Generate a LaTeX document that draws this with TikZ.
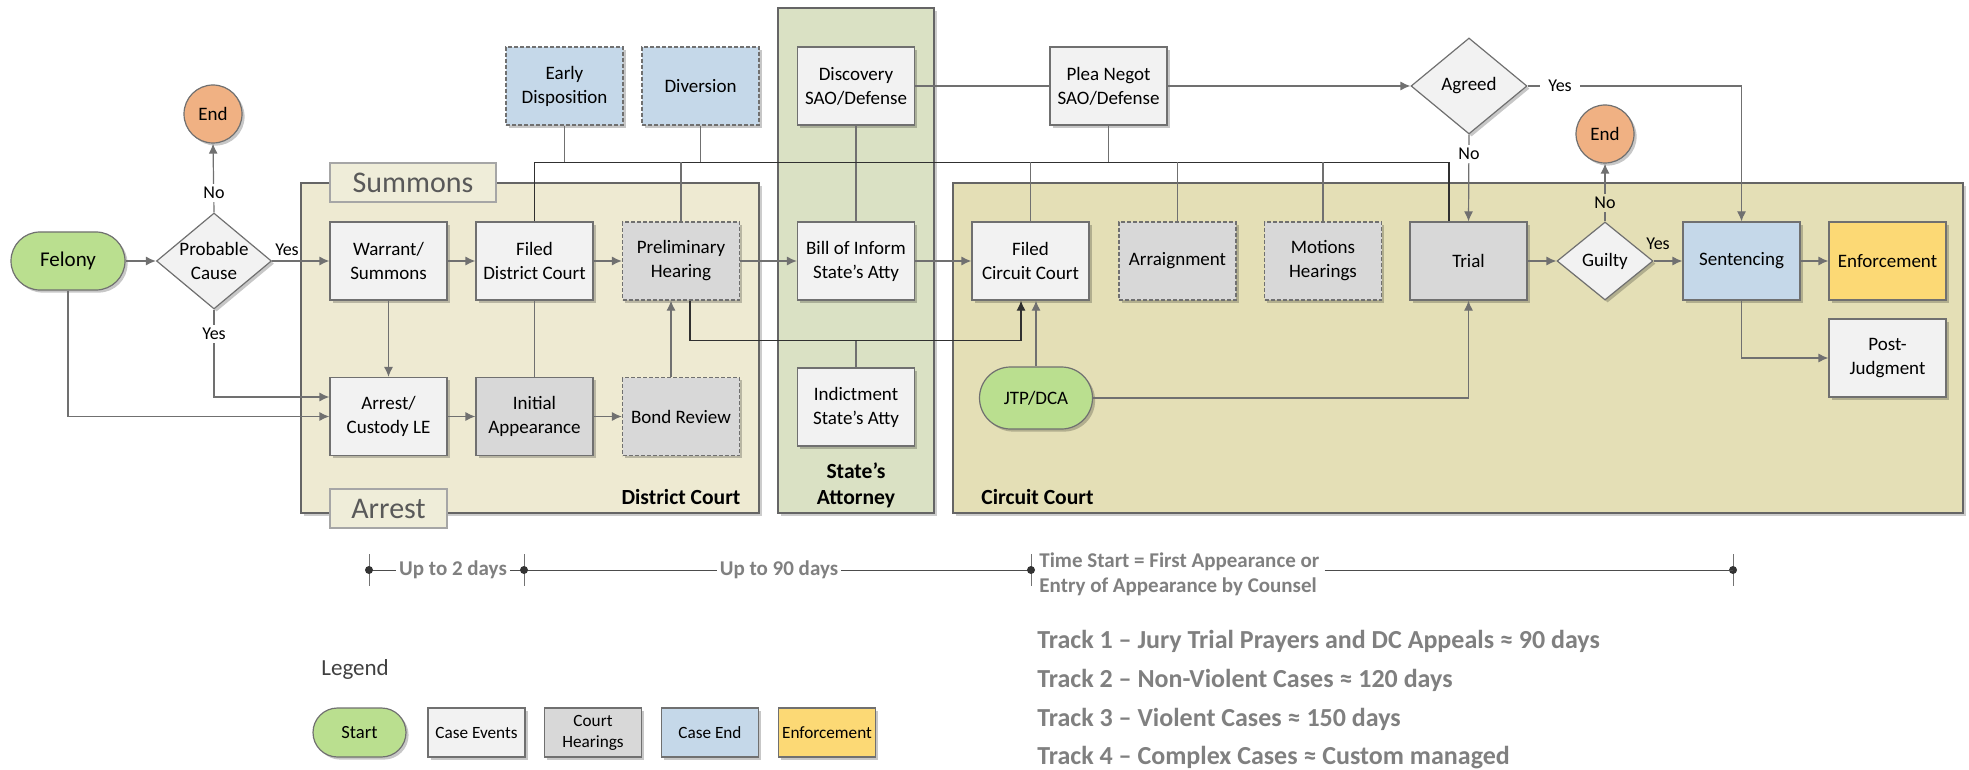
\documentclass[tikz,border=0pt]{standalone}
\usepackage{fontspec}
\setmainfont{Carlito}
\usetikzlibrary{arrows.meta,shadows,shapes.geometric,shapes.misc,calc}
\definecolor{evtfill}{HTML}{F2F2F2}
\definecolor{hearfill}{HTML}{D8D8D8}
\definecolor{endfill}{HTML}{C5D8E9}
\definecolor{enffill}{HTML}{FCD975}
\definecolor{startfill}{HTML}{BADF8F}
\definecolor{stopfill}{HTML}{F0B183}
\definecolor{dcfill}{HTML}{EEEAD2}
\definecolor{safill}{HTML}{DAE1C4}
\definecolor{ccfill}{HTML}{E4DFB6}
\definecolor{tabfill}{HTML}{EFEDD9}
\definecolor{boxline}{HTML}{707070}
\definecolor{lineclr}{HTML}{707070}
\definecolor{busclr}{HTML}{303030}
\definecolor{tlgray}{HTML}{808080}
\tikzset{
  shad/.style={drop shadow={shadow xshift=1.3pt,shadow yshift=-1.3pt,fill=black,opacity=0.22}},
  base/.style={draw=boxline,line width=0.6pt,minimum width=58.5pt,minimum height=39pt,
    align=center,inner sep=1pt,font=\fontsize{9.5}{12}\selectfont,shad},
  evt/.style={base,fill=evtfill},
  hear/.style={base,fill=hearfill},
  dhear/.style={hear,dash pattern=on 2pt off 1pt},
  cend/.style={base,fill=endfill},
  dcend/.style={cend,dash pattern=on 2pt off 1pt},
  enf/.style={base,fill=enffill},
  startnode/.style={base,rounded rectangle,fill=startfill},
  stopnode/.style={draw=boxline,line width=0.6pt,circle,minimum size=29pt,inner sep=0pt,
    fill=stopfill,font=\fontsize{9.5}{12}\selectfont,shad},
  dia/.style={draw=boxline,line width=0.6pt,diamond,inner sep=0pt,fill=evtfill,shad},
  dlbl/.style={align=center,font=\fontsize{9.5}{12}\selectfont,inner sep=0pt},
  cont/.style={draw=boxline!90!black,line width=0.7pt,inner sep=0pt,
    drop shadow={shadow xshift=1.5pt,shadow yshift=-1.5pt,fill=black,opacity=0.2}},
  tab/.style={draw=black!35,line width=0.6pt,fill=tabfill,inner sep=0pt,
    text=black!65,font=\fontsize{15}{17}\selectfont},
  clbl/.style={font=\fontsize{10.8}{13}\selectfont\bfseries,align=center,inner sep=0pt},
  yn/.style={font=\fontsize{9}{11}\selectfont,inner sep=1.5pt},
  ln/.style={draw=lineclr,line width=0.6pt},
  bus/.style={draw=busclr,line width=0.6pt},
  arr/.style={ln,-{Latex[length=5pt,width=4.5pt]}},
  busarr/.style={bus,-{Latex[length=5pt,width=4.5pt]}},
  tl/.style={draw=black!70,line width=0.5pt},
  tlt/.style={text=tlgray,font=\fontsize{10.5}{12.5}\selectfont\bfseries,inner sep=1.5pt},
  track/.style={text=tlgray,font=\fontsize{13}{15}\selectfont\bfseries,inner sep=0pt,anchor=west},
  lg/.style={minimum width=48.5pt,minimum height=24.5pt,font=\fontsize{8.6}{10.5}\selectfont},
}
\begin{document}
\begin{tikzpicture}[x=0.5pt,y=-0.5pt]
\useasboundingbox (0,0) rectangle (1969,770);
% containers
\node[cont,fill=dcfill,minimum width=229pt,minimum height=165pt] (dc) at (530,348) {};
\node[cont,fill=safill,minimum width=78pt,minimum height=252.5pt] (sa) at (856,260.5) {};
\node[cont,fill=ccfill,minimum width=505pt,minimum height=165pt] (cc) at (1458,348) {};
\node[tab,minimum width=83pt,minimum height=19.5pt] (sumtab) at (413,182.5) {Summons};
\node[tab,minimum width=58.5pt,minimum height=19.5pt] (arrtab) at (388.5,508.5) {Arrest};
\node[clbl] (dclbl) at (681,497) {District Court};
\node[clbl] (salbl) at (856,485) {State’s\\Attorney};
\node[clbl,anchor=west] (cclbl) at (981,497) {Circuit Court};
% nodes
\node[startnode,minimum width=59pt,minimum height=29pt,font=\fontsize{10.5}{12}\selectfont] (felony) at (68,261) {Felony};
\node[dia,minimum width=57.5pt,minimum height=48pt,label={[dlbl]center:Probable\\Cause}] (pc) at (214,261) {};
\node[stopnode] (end1) at (213,114) {End};
\node[evt] (warrant) at (388.5,261) {Warrant/\\Summons};
\node[evt] (arrest) at (388.5,416.5) {Arrest/\\Custody LE};
\node[evt] (fdc) at (534.5,261) {Filed\\District Court};
\node[hear] (initapp) at (534.5,416.5) {Initial\\Appearance};
\node[dhear] (prelim) at (681,261) {Preliminary\\Hearing};
\node[dhear] (bond) at (681,416.5) {Bond Review};
\node[dcend] (early) at (564.5,86) {Early\\Disposition};
\node[dcend] (diversion) at (700.5,86) {Diversion};
\node[evt] (discovery) at (856,86) {Discovery\\SAO/Defense};
\node[evt] (bill) at (856,261) {Bill of Inform\\State’s Atty};
\node[evt] (indict) at (856,407) {Indictment\\State’s Atty};
\node[evt] (plea) at (1108.5,86) {Plea Negot\\SAO/Defense};
\node[dia,minimum width=58pt,minimum height=48pt,label={[dlbl]center:Agreed}] (agreed) at (1469,86) {};
\node[evt] (fcc) at (1030.5,261) {Filed\\Circuit Court};
\node[dhear] (arraign) at (1177.5,261) {Arraignment};
\node[dhear] (motions) at (1323,261) {Motions\\Hearings};
\node[hear] (trial) at (1468.5,261) {Trial};
\node[dia,minimum width=48pt,minimum height=39pt,label={[dlbl]center:Guilty}] (guilty) at (1605,261) {};
\node[stopnode] (end2) at (1605,134) {End};
\node[cend] (sentencing) at (1741.5,261) {Sentencing};
\node[enf] (enforcement) at (1887.5,261) {Enforcement};
\node[evt] (postj) at (1887.5,358) {Post-\\Judgment};
\node[startnode,minimum width=58.5pt,minimum height=31pt] (jtp) at (1036,398) {JTP/DCA};
% connectors
\draw[arr] (felony.east) -- (pc.west);
\draw[arr] (pc.east) -- (warrant.west);
\node[yn] (yes1) at (287,250) {Yes};
\draw[arr] (pc.north) -- (end1.south);
\node[yn,fill=white] (no1) at (214,193) {No};
\draw[arr] (pc.south) |- ([yshift=9.75pt]arrest.west);
\node[yn,fill=white] (yes2) at (214,334) {Yes};
\draw[arr] (felony.south) |- (arrest.west);
\draw[arr] (warrant) -- (fdc);
\draw[arr] (warrant) -- (arrest);
\draw[arr] (arrest) -- (initapp);
\draw[arr] (initapp) -- (bond);
\draw[ln] (fdc) -- (initapp);
\draw[arr] (fdc) -- (prelim);
\draw[arr] ([xshift=-5pt]bond.north) -- ([xshift=-5pt]prelim.south);
\draw[busarr] ([xshift=4.5pt]prelim.south) -- ++(0,40) coordinate (pl) -| ([xshift=-4.75pt]fcc.south);
\draw[ln] (indict.north) -- (indict.north |- pl);
\draw[arr] (prelim) -- (bill);
\draw[arr] (bill) -- (fcc);
\draw[ln] (discovery) -- (bill);
\draw[ln] (discovery) -- (plea);
\draw[arr] (plea) -- (agreed);
\path (fdc.north) ++(0,-59) coordinate (busL);
\draw[bus] (fdc.north) -- (busL) -| ([xshift=-9.75pt]trial.north);
\foreach \n/\a in {early/south,diversion/south,prelim/north,plea/south,fcc/north,arraign/north,motions/north}
  \draw[ln] (\n.\a) -- (\n.\a |- busL);
\draw[arr] (agreed.south) -- (trial.north);
\node[yn,fill=white] (no2) at (1469,154) {No};
\draw[arr] (agreed.east) -| (sentencing.north);
\node[yn,fill=white,inner xsep=4pt] (yes3) at (1560,86) {Yes};
\draw[arr] (trial) -- (guilty);
\draw[arr] (guilty.north) -- (end2.south);
\node[yn,fill=ccfill] (no3) at (1605,203) {No};
\draw[arr] (guilty.east) -- (sentencing.west);
\node[yn] (yes4) at (1658,244) {Yes};
\draw[arr] (sentencing) -- (enforcement);
\draw[arr] (sentencing.south) |- (postj.west);
\draw[arr] (jtp.north) -- (jtp.north |- fcc.south);
\draw[arr] (jtp.east) -| (trial.south);
% timeline
\coordinate (t1) at (369,570);
\coordinate (t2) at (524,570);
\coordinate (t3) at (1031,570);
\coordinate (t4) at (1733,570);
\draw[tl] (t1) -- (t3);
\foreach \t in {t1,t2,t3,t4}{
  \draw[draw=black!55,line width=0.4pt] (\t) ++(0,-16) -- ++(0,32);
  \fill[black!80] (\t) circle (2pt);
}
\node[tlt,fill=white] (u2) at (453,570) {Up to 2 days};
\node[tlt,fill=white] (u90) at (779,570) {Up to 90 days};
\node[tlt,align=left,anchor=west] (ts) at (1036,574) {Time Start = First Appearance or\\Entry of Appearance by Counsel};
\draw[tl] ([xshift=1pt]ts.east |- t4) -- (t4);
\node[track] (tr1) at (1037,641) {Track 1 – Jury Trial Prayers and DC Appeals ≈ 90 days};
\node[track] (tr2) at (1037,680) {Track 2 – Non-Violent Cases ≈ 120 days};
\node[track] (tr3) at (1037,719) {Track 3 – Violent Cases ≈ 150 days};
\node[track] (tr4) at (1037,758) {Track 4 – Complex Cases ≈ Custom managed};
% legend
\node[anchor=west,inner sep=0pt,text=black!75,font=\fontsize{11.5}{13}\selectfont] (legend) at (321,669) {Legend};
\node[startnode,lg,font=\fontsize{9.3}{11}\selectfont] (lgstart) at (359.5,732.5) {Start};
\node[evt,lg] (lgevt) at (476.5,732.5) {Case Events};
\node[hear,lg] (lghear) at (593,732.5) {Court\\Hearings};
\node[cend,lg] (lgend) at (710,732.5) {Case End};
\node[enf,lg] (lgenf) at (827,732.5) {Enforcement};
\end{tikzpicture}
\end{document}
